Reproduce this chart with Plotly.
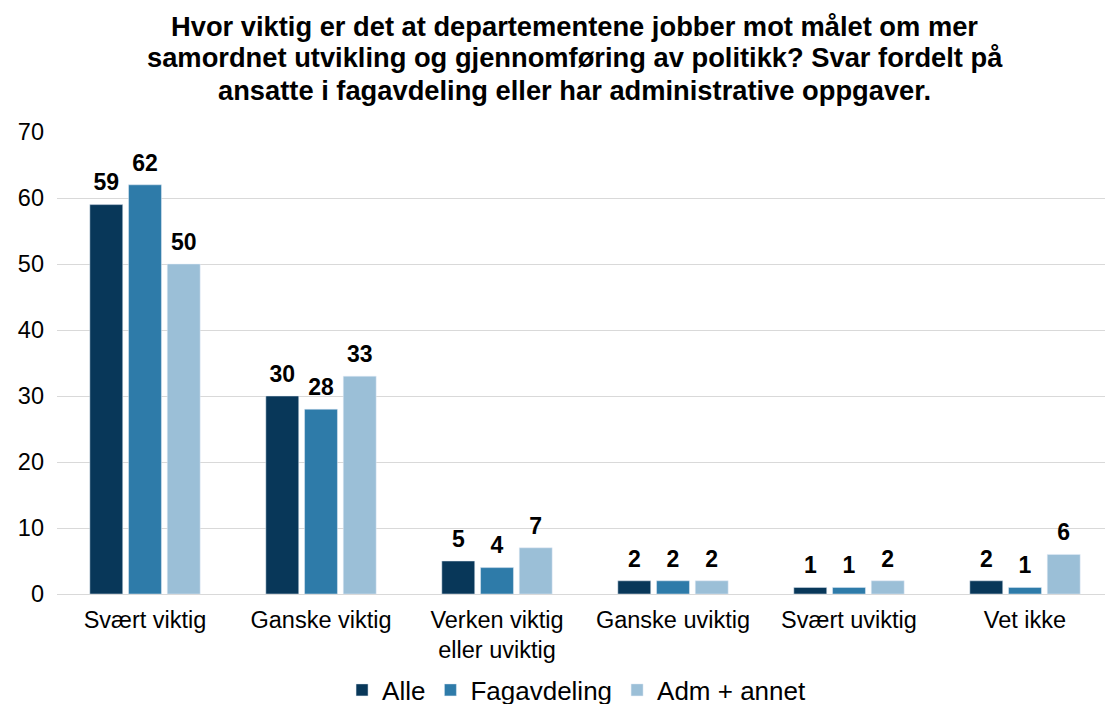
import plotly.graph_objects as go

categories = ["Svært viktig", "Ganske viktig", "Verken viktig<br>eller uviktig", "Ganske uviktig", "Svært uviktig", "Vet ikke"]
alle = [59, 30, 5, 2, 1, 2]
fagavdeling = [62, 28, 4, 2, 1, 1]
adm = [50, 33, 7, 2, 2, 6]
series_names = ["Alle", "Fagavdeling", "Adm + annet"]
colors = ["#083759", "#2e7ba9", "#9bbfd7"]
title_lines = [
    "Hvor viktig er det at departementene jobber mot målet om mer",
    "samordnet utvikling og gjennomføring av politikk? Svar fordelt på",
    "ansatte i fagavdeling eller har administrative oppgaver.",
]

FONT = "Liberation Sans, Arial, sans-serif"
PLOT_TOP = 124
PLOT_H = 462

fig = go.Figure()
for i, (name, vals, col) in enumerate(zip(series_names, [alle, fagavdeling, adm], colors)):
    fig.add_trace(go.Bar(
        x=categories, y=vals, name=name, marker_color=col,
        offsetgroup=str(i), cliponaxis=False, hoverinfo="x+y+name",
    ))
for i, (name, vals) in enumerate(zip(series_names, [alle, fagavdeling, adm])):
    fig.add_trace(go.Scatter(
        x=categories, y=vals, name=name, mode="markers+text",
        marker=dict(size=12, opacity=0), offsetgroup=str(i),
        text=[str(v) for v in vals], textposition="top center",
        textfont=dict(family=FONT, size=23, color="#000000", weight="bold"),
        showlegend=False, hoverinfo="skip", cliponaxis=False,
    ))

for line, fy in zip(title_lines, [19, 50, 82]):
    fig.add_annotation(
        text=line, x=0.4905, xref="paper", xanchor="center",
        y=1 + (PLOT_TOP - fy) / PLOT_H, yref="paper", yanchor="middle", showarrow=False,
        font=dict(family=FONT, size=27.3, color="#000000", weight="bold"),
    )

fig.update_layout(
    width=1113, height=704,
    paper_bgcolor="white", plot_bgcolor="white",
    barmode="group", bargap=0.34, bargroupgap=0.15,
    scattermode="group", scattergap=0.34,
    margin=dict(l=49, r=8, t=PLOT_TOP, b=704 - PLOT_TOP - PLOT_H, autoexpand=False),
    font=dict(family=FONT, size=23, color="#000000"),
    yaxis=dict(range=[0, 70], dtick=10, showgrid=True, gridcolor="#d9d9d9", gridwidth=1,
               zeroline=True, zerolinecolor="#d9d9d9", zerolinewidth=1,
               tickfont=dict(family=FONT, size=23.5, color="#000000"), ticks="",
               ticklabelstandoff=12, automargin=False),
    xaxis=dict(tickfont=dict(family=FONT, size=23.5, color="#000000"), showline=False, ticks="",
               ticklabelstandoff=9, automargin=False),
    legend=dict(orientation="h", x=0.492, xanchor="center", y=-96 / PLOT_H, yanchor="middle",
                yref="paper", font=dict(family=FONT, size=26, color="#000000"),
                itemwidth=30, traceorder="normal", tracegroupgap=0),
)

fig.write_html("out.html")
